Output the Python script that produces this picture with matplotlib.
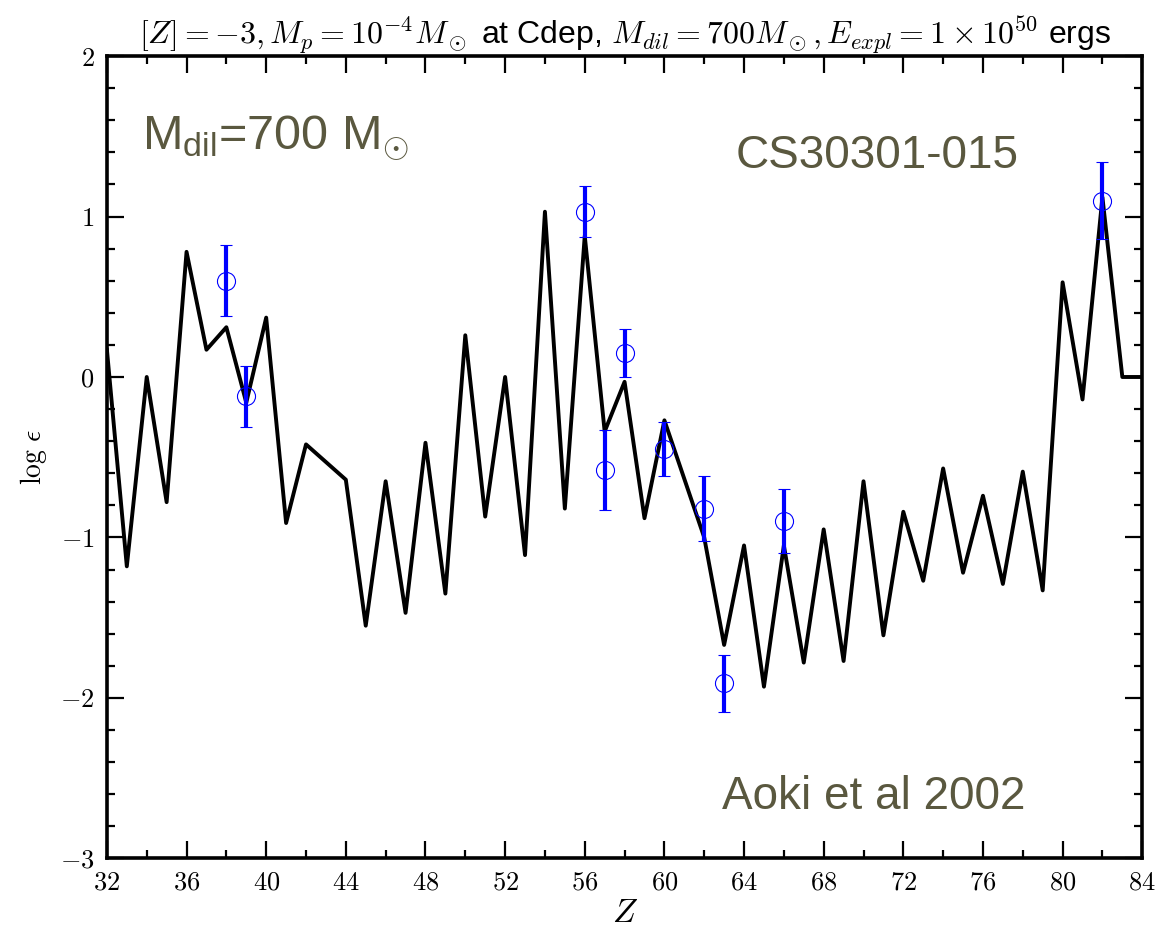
import matplotlib
matplotlib.use("Agg")
import matplotlib.pyplot as plt
from matplotlib.ticker import MultipleLocator, FuncFormatter

plt.rcParams['font.family'] = ['Liberation Sans', 'DejaVu Sans']
plt.rcParams['mathtext.fontset'] = 'cm'

# model abundances (log eps) vs atomic number
z_model = [32, 33, 34, 35, 36, 37, 38, 39, 40, 41, 42, 44, 45, 46, 47, 48, 49,
           50, 51, 52, 53, 54, 55, 56, 57, 58, 59, 60, 62, 63, 64, 65, 66, 67,
           68, 69, 70, 71, 72, 73, 74, 75, 76, 77, 78, 79, 80, 81, 82, 83, 84]
logeps_model = [0.17, -1.18, 0.0, -0.78, 0.78, 0.17, 0.31, -0.16, 0.37, -0.91,
                -0.42, -0.64, -1.55, -0.65, -1.47, -0.41, -1.35, 0.26, -0.87,
                0.0, -1.11, 1.03, -0.82, 0.88, -0.34, -0.03, -0.88, -0.27,
                -1.0, -1.67, -1.05, -1.93, -1.05, -1.78, -0.95, -1.77, -0.65,
                -1.61, -0.84, -1.27, -0.57, -1.22, -0.74, -1.29, -0.59, -1.33,
                0.59, -0.14, 1.12, 0.0, 0.0]

# observed CS30301-015 (Aoki et al 2002)
z_obs = [38, 39, 56, 57, 58, 60, 62, 63, 66, 82]
logeps_obs = [0.60, -0.12, 1.03, -0.58, 0.15, -0.45, -0.82, -1.91, -0.90, 1.10]
err_obs = [0.22, 0.19, 0.16, 0.25, 0.15, 0.17, 0.20, 0.18, 0.20, 0.24]

txt_col = '#5a583f'

fig = plt.figure(figsize=(11.62, 9.35), dpi=100)
ax = fig.add_axes([0.092, 0.082, 0.891, 0.858])

ax.plot(z_model, logeps_model, color='black', lw=2.8, zorder=2)
ax.errorbar(z_obs, logeps_obs, yerr=err_obs, fmt='o', mfc='none', mec='blue',
            ms=13, mew=0.8, ecolor='blue', elinewidth=3, capsize=4,
            capthick=0.8, zorder=3)

ax.set_xlim(32, 84)
ax.set_ylim(-3, 2)
ax.xaxis.set_major_locator(MultipleLocator(4))
ax.xaxis.set_minor_locator(MultipleLocator(2))
ax.yaxis.set_major_locator(MultipleLocator(1))
ax.yaxis.set_minor_locator(MultipleLocator(0.2))
fmt = FuncFormatter(lambda v, p: r'$%g$' % v)
ax.xaxis.set_major_formatter(fmt)
ax.yaxis.set_major_formatter(fmt)
ax.tick_params(which='both', direction='in', top=True, right=True,
               labelsize=19, width=1.6)
ax.tick_params(which='major', length=12, pad=9)
ax.tick_params(which='minor', length=6)
for s in ax.spines.values():
    s.set_linewidth(2.6)

ax.set_xlabel(r'$Z$', fontsize=24, labelpad=2)
ax.set_ylabel(r'$\log\,\epsilon$', fontsize=20, labelpad=8)
ax.set_title(r'$[Z]=-3, M_p=10^{-4}M_\odot$ at Cdep, '
             r'$M_{dil}=700M_\odot, E_{expl}=1\times10^{50}$ ergs',
             fontsize=23, pad=4)

ax.text(0.034, 0.885, r'M$\mathregular{_{dil}}$=700 M$\!_\odot$',
        transform=ax.transAxes, fontsize=35, color=txt_col)
ax.text(0.607, 0.86, 'CS30301-015', transform=ax.transAxes,
        fontsize=33, color=txt_col)
ax.text(0.594, 0.062, 'Aoki et al 2002', transform=ax.transAxes,
        fontsize=33, color=txt_col)

fig.savefig('out.png', dpi=100)
